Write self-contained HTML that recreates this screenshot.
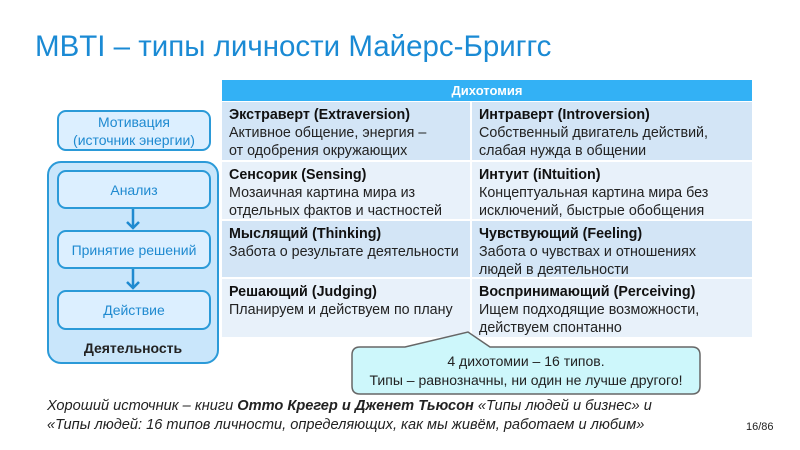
<!DOCTYPE html>
<html><head><meta charset="utf-8"><style>
body{margin:0;width:800px;height:450px;background:#fff;position:relative;overflow:hidden;font-family:"Liberation Sans",sans-serif}
.a{position:absolute}
.t{left:35px;top:30px;font-size:29.5px;color:#1a8ad4;white-space:nowrap}
.box{position:absolute;border:2px solid #2b9ad8;border-radius:9px;background:#dcefff;color:#1f8ad0;font-size:14px;text-align:center;display:flex;align-items:center;justify-content:center;line-height:18px;box-sizing:border-box;white-space:nowrap}
.cell{position:absolute;font-size:14.3px;line-height:18px;color:#222;padding:4px 0 0 7px;box-sizing:border-box;white-space:nowrap}
.cell b{color:#111}
</style></head><body>
<div class="a t">MBTI – типы личности Майерс-Бриггс</div>

<div class="box" style="left:57px;top:110px;width:154px;height:41px;">Мотивация<br>(источник энергии)</div>
<div class="box" style="left:47px;top:161px;width:172px;height:203px;border-radius:14px;background:#c9e6fb;"></div>
<div class="box" style="left:57px;top:170px;width:154px;height:39px;">Анализ</div>
<div class="box" style="left:57px;top:230px;width:154px;height:39px;">Принятие решений</div>
<div class="box" style="left:57px;top:290px;width:154px;height:40px;">Действие</div>
<div class="a" style="left:47px;top:340px;width:172px;text-align:center;font-weight:bold;font-size:14px;color:#222">Деятельность</div>
<svg class="a" style="left:0;top:0" width="800" height="450">
<g stroke="#1f8ad0" stroke-width="2.5" fill="none"><line x1="133" y1="209" x2="133" y2="228"/><polyline points="127,222 133,228 139,222"/><line x1="133" y1="269" x2="133" y2="288"/><polyline points="127,282 133,288 139,282"/></g>
</svg>

<div class="a" style="left:222px;top:80px;width:530px;height:21px;background:#33b1f5;color:#fff;font-weight:bold;font-size:13px;text-align:center;line-height:21px">Дихотомия</div>
<div class="cell" style="left:222px;top:102px;width:248px;height:58px;background:#d3e5f6"><b>Экстраверт (Extraversion)</b><br>Активное общение, энергия –<br>от одобрения окружающих</div>
<div class="cell" style="left:472px;top:102px;width:280px;height:58px;background:#d3e5f6"><b>Интраверт (Introversion)</b><br>Собственный двигатель действий,<br>слабая нужда в общении</div>
<div class="cell" style="left:222px;top:162px;width:248px;height:57px;background:#e8f1fa"><b>Сенсорик (Sensing)</b><br>Мозаичная картина мира из<br>отдельных фактов и частностей</div>
<div class="cell" style="left:472px;top:162px;width:280px;height:57px;background:#e8f1fa"><b>Интуит (iNtuition)</b><br>Концептуальная картина мира без<br>исключений, быстрые обобщения</div>
<div class="cell" style="left:222px;top:221px;width:248px;height:56px;background:#d3e5f6"><b>Мыслящий (Thinking)</b><br>Забота о результате деятельности</div>
<div class="cell" style="left:472px;top:221px;width:280px;height:56px;background:#d3e5f6"><b>Чувствующий (Feeling)</b><br>Забота о чувствах и отношениях<br>людей в деятельности</div>
<div class="cell" style="left:222px;top:279px;width:248px;height:58px;background:#e8f1fa"><b>Решающий (Judging)</b><br>Планируем и действуем по плану</div>
<div class="cell" style="left:472px;top:279px;width:280px;height:58px;background:#e8f1fa"><b>Воспринимающий (Perceiving)</b><br>Ищем подходящие возможности,<br>действуем спонтанно</div>

<svg class="a" style="left:0;top:0" width="800" height="450">
<path d="M360,347 L405,347 L468,332 L490,347 L692,347 Q700,347 700,355 L700,386 Q700,394 692,394 L360,394 Q352,394 352,386 L352,355 Q352,347 360,347 Z" fill="#cdf7fb" stroke="#666" stroke-width="1.5"/>
</svg>
<div class="a" style="left:352px;top:352px;width:348px;text-align:center;font-size:14px;line-height:19px;color:#222;white-space:nowrap">4 дихотомии – 16 типов.<br>Типы – равнозначны, ни один не лучше другого!</div>

<div class="a" style="left:47px;top:397px;font-size:14.6px;line-height:19px;font-style:italic;color:#222;white-space:nowrap">Хороший источник – книги <b>Отто Крегер и Дженет Тьюсон</b> «Типы людей и бизнес» и<br>«Типы людей: 16 типов личности, определяющих, как мы живём, работаем и любим»</div>
<div class="a" style="left:746px;top:421px;font-size:11px;color:#222">16/86</div>
</body></html>
